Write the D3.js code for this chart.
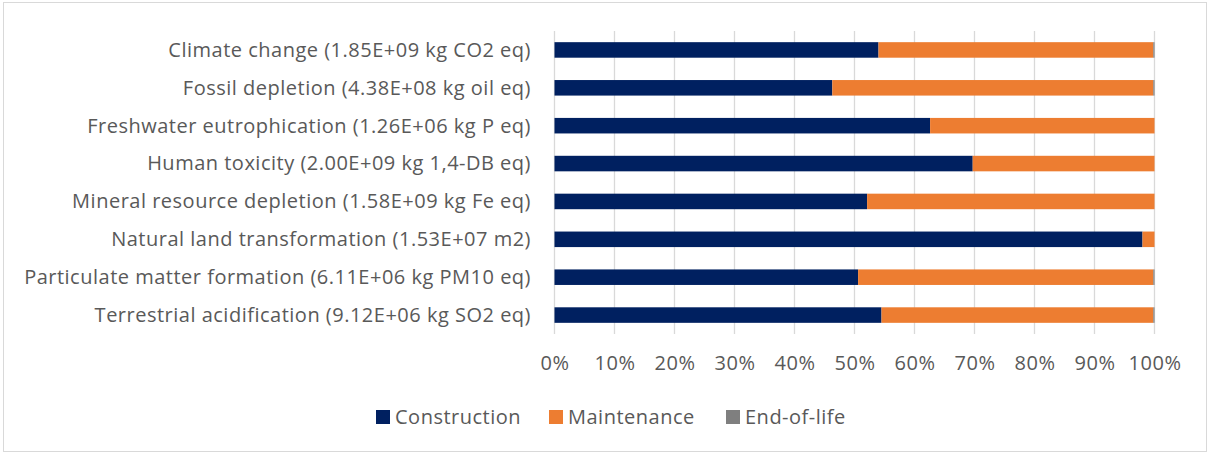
<!DOCTYPE html>
<html>
<head>
<meta charset="utf-8">
<script src="https://cdn.jsdelivr.net/npm/d3@7"></script>
<style>
  html, body { margin: 0; padding: 0; background: #fff; }
  svg { display: block; }
  text { font-family: "Open Sans", Lato, sans-serif; fill: #595959; letter-spacing: 0.5px; }
</style>
</head>
<body>
<svg id="chart" width="1210" height="455"></svg>
<script>
// Impact categories (top to bottom)
const categories = [
  "Climate change (1.85E+09 kg CO2 eq)",
  "Fossil depletion (4.38E+08 kg oil eq)",
  "Freshwater eutrophication (1.26E+06 kg P eq)",
  "Human toxicity (2.00E+09 kg 1,4-DB eq)",
  "Mineral resource depletion (1.58E+09 kg Fe eq)",
  "Natural land transformation (1.53E+07 m2)",
  "Particulate matter formation (6.11E+06 kg PM10 eq)",
  "Terrestrial acidification (9.12E+06 kg SO2 eq)"
];

// Share of each life-cycle phase, in percent
const construction = [54.0, 46.3, 62.6, 69.7, 52.1, 98.0, 50.6, 54.5];
const maintenance  = [45.8, 53.5, 37.4, 30.3, 47.9, 2.0, 49.2, 45.3];
const endOfLife    = [0.2, 0.2, 0.0, 0.0, 0.0, 0.0, 0.2, 0.2];

const seriesNames = ["Construction", "Maintenance", "End-of-life"];
const seriesColors = ["#002060", "#ED7D31", "#7F7F7F"];
const tickValues = [0, 0.1, 0.2, 0.3, 0.4, 0.5, 0.6, 0.7, 0.8, 0.9, 1.0];

const FONT = 20;
const svg = d3.select("#chart");

// outer chart frame
svg.append("rect")
  .attr("x", 3.5).attr("y", 2.5)
  .attr("width", 1203).attr("height", 449)
  .attr("fill", "none").attr("stroke", "#d9d9d9").attr("stroke-width", 1);

const plot = { left: 554.5, right: 1154.5, top: 31, bottom: 334 };

const x = d3.scaleLinear().domain([0, 1]).range([plot.left, plot.right]);
const y = d3.scaleBand().domain(categories)
  .range([plot.top, plot.bottom]).paddingInner(0.59).paddingOuter(0.295);

// gridlines
svg.append("g").selectAll("line").data(tickValues).join("line")
  .attr("x1", d => x(d)).attr("x2", d => x(d))
  .attr("y1", plot.top).attr("y2", plot.bottom)
  .attr("stroke", "#d9d9d9").attr("stroke-width", 1.3);

// stacked, normalised bars
const rows = categories.map((c, i) => ({
  category: c,
  Construction: construction[i],
  Maintenance: maintenance[i],
  "End-of-life": endOfLife[i]
}));
const stacked = d3.stack().keys(seriesNames).offset(d3.stackOffsetExpand)(rows);

svg.append("g").selectAll("g").data(stacked).join("g")
  .attr("fill", (d, i) => seriesColors[i])
  .selectAll("rect").data(d => d).join("rect")
  .attr("x", d => x(d[0]))
  .attr("width", d => Math.max(0, x(d[1]) - x(d[0])))
  .attr("y", d => y(d.data.category))
  .attr("height", y.bandwidth());

// category labels
svg.append("g").selectAll("text").data(categories).join("text")
  .attr("x", 531)
  .attr("y", d => y(d) + y.bandwidth() / 2 + 6.9)
  .attr("text-anchor", "end")
  .attr("font-size", FONT)
  .text(d => d);

// x axis tick labels
const xAxis = d3.axisBottom(x).tickValues(tickValues)
  .tickFormat(d3.format(".0%")).tickSize(0).tickPadding(0);
const gx = svg.append("g").attr("transform", `translate(0,${plot.bottom + 36})`).call(xAxis);
gx.select(".domain").remove();
gx.selectAll("text")
  .attr("font-size", FONT).attr("dy", null).attr("y", 0)
  .style("font-family", "'Open Sans', Lato, sans-serif").attr("fill", "#595959");

// legend
const legendX = [376, 549, 726];
const legend = svg.append("g").selectAll("g").data(seriesNames).join("g")
  .attr("transform", (d, i) => `translate(${legendX[i]},417)`);
legend.append("rect")
  .attr("x", 0).attr("y", -7).attr("width", 14).attr("height", 14)
  .attr("fill", (d, i) => seriesColors[i]);
legend.append("text")
  .attr("x", 19).attr("y", 7)
  .attr("font-size", FONT)
  .text(d => d);
</script>
</body>
</html>
